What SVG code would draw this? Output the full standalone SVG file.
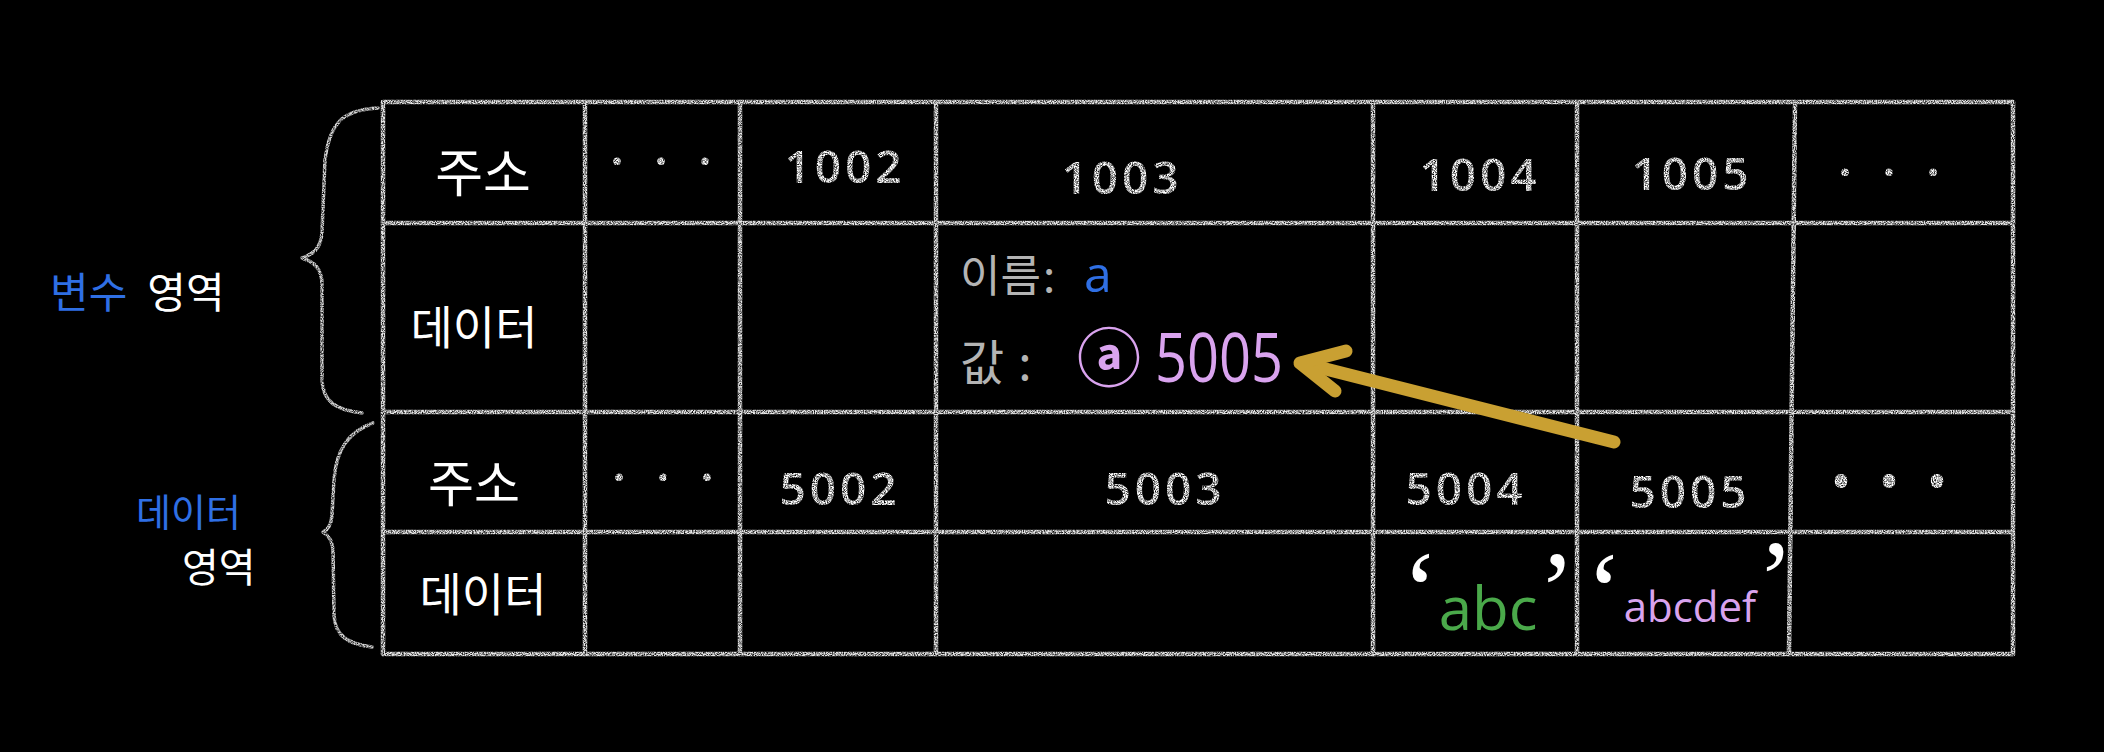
<svg xmlns="http://www.w3.org/2000/svg" width="2104" height="752" viewBox="0 0 2104 752">
<defs>
<filter id="chalk" filterUnits="userSpaceOnUse" x="0" y="0" width="2104" height="752">
<feTurbulence type="fractalNoise" baseFrequency="0.9" numOctaves="2" seed="4" result="n"/>
<feColorMatrix in="n" type="matrix" values="0 0 0 0 1  0 0 0 0 1  0 0 0 0 1  0 0 0 2.4 -0.5" result="a"/>
<feComposite in="SourceGraphic" in2="a" operator="in"/>
</filter>
<style>
.grid{stroke:#e6e6e6;stroke-width:4.5;fill:none;stroke-linecap:round}
.brace{stroke:#d8d8d8;stroke-width:3.5;fill:none;stroke-linecap:round;stroke-linejoin:round}
.ko{font-family:"Noto Sans CJK KR","Noto Sans",sans-serif;fill:#ffffff}
.num{font-family:"Open Sans","Liberation Sans",sans-serif;fill:#ffffff;text-anchor:middle;font-size:46px;font-weight:600;letter-spacing:4px}
.dots{font-family:"Open Sans","Liberation Sans",sans-serif;fill:#ffffff;text-anchor:middle;font-size:44px;font-weight:700;letter-spacing:10px}
.lat{font-family:"Open Sans","Liberation Sans",sans-serif}
.blue{fill:#2f6fe4}
.gray{fill:#b4b4b4}
.purple{fill:#d9a3ee}
.green{fill:#4aa94a}
.q{font-family:"Liberation Serif","DejaVu Serif",serif;fill:#ffffff;font-size:110px}
.arrow{stroke:#c9a032;stroke-width:13;fill:none;stroke-linecap:round;stroke-linejoin:round}
</style>
</defs>
<rect width="2104" height="752" fill="#000000"/>

<g id="grid" filter="url(#chalk)">
<path class="grid" d="M383,102 H2013 M383,223 H2013 M383,412 H2013 M383,532 H2013 M383,654 H2013"/>
<path class="grid" d="M383,102 V654 M585,102 V654 M740,102 V654 M936,102 V654 M1373,102 V654 M1577,102 V654 M1795,102 L1789,654 M2013,102 V654"/>
</g>

<g id="braces" filter="url(#chalk)">
<path class="brace" d="M378,108 C345,110 330,120 325,160 L322,232 C321,248 314,254 302,258 C314,262 322,268 322,285 L322,380 C323,402 336,410 362,413"/>
<path class="brace" d="M373,423 C348,432 336,450 334,480 L332,515 C331,526 328,530 323,532 C330,536 333,542 333,552 L334,615 C335,636 348,644 372,647"/>
</g>

<g id="label-var">
<text class="ko" x="50" y="308" font-size="42"><tspan class="blue">변수</tspan><tspan dx="20">영역</tspan></text>
</g>
<g id="label-data">
<text class="ko" font-size="38"><tspan class="blue" x="136" y="526">데이터</tspan><tspan x="182" y="582" font-size="40">영역</tspan></text>
</g>

<g id="r1-head"><text class="ko" x="483" y="192" font-size="52" text-anchor="middle">주소</text></g>
<g id="r1-c2" filter="url(#chalk)"><text class="dots" x="666" y="177">· · ·</text></g>
<g id="r1-c3" filter="url(#chalk)"><text class="num" x="845" y="183">1002</text></g>
<g id="r1-c4" filter="url(#chalk)"><text class="num" x="1122" y="194" letter-spacing="10">1003</text></g>
<g id="r1-c5" filter="url(#chalk)"><text class="num" x="1480" y="191">1004</text></g>
<g id="r1-c6" filter="url(#chalk)"><text class="num" x="1692" y="190" letter-spacing="7">1005</text></g>
<g id="r1-c7" filter="url(#chalk)"><text class="dots" x="1894" y="188" letter-spacing="14">· · ·</text></g>

<g id="r2-head"><text class="ko" x="474" y="344" font-size="46" text-anchor="middle">데이터</text></g>
<g id="r2-c4">
<text class="ko gray" x="960" y="292" font-size="44">이름<tspan dx="2">:</tspan></text>
<text class="lat blue" x="1084" y="292" font-size="50">a</text>
<text class="ko gray" x="960" y="380" font-size="48">값<tspan dx="14">:</tspan></text>
<text class="ko purple" x="1077" y="381" font-size="64" font-weight="700">ⓐ</text>
<text class="lat purple" x="1155" y="382" font-size="68" textLength="128" lengthAdjust="spacingAndGlyphs">5005</text>
</g>

<g id="r3-head"><text class="ko" x="474" y="502" font-size="50" text-anchor="middle">주소</text></g>
<g id="r3-c2" filter="url(#chalk)"><text class="dots" x="668" y="493">· · ·</text></g>
<g id="r3-c3" filter="url(#chalk)"><text class="num" x="840" y="505" letter-spacing="6">5002</text></g>
<g id="r3-c4" filter="url(#chalk)"><text class="num" x="1165" y="505" letter-spacing="7">5003</text></g>
<g id="r3-c5" filter="url(#chalk)"><text class="num" x="1466" y="505" letter-spacing="6">5004</text></g>
<g id="r3-c6" filter="url(#chalk)"><text class="num" x="1690" y="508" letter-spacing="7">5005</text></g>
<g id="r3-c7" filter="url(#chalk)"><text class="dots" x="1894" y="497" font-size="34" letter-spacing="16">• • •</text></g>

<g id="r4-head"><text class="ko" x="483" y="611" font-size="46" text-anchor="middle">데이터</text></g>
<g id="r4-c5">
<text x="1402" y="627"><tspan class="q">‘</tspan><tspan class="lat green" font-size="60" y="630">abc</tspan><tspan class="q" y="627" dx="1">’</tspan></text>
</g>
<g id="r4-c6">
<text x="1586" y="628"><tspan class="q">‘</tspan><tspan class="lat purple" font-size="42" y="622" dx="1">abcdef</tspan><tspan class="q" y="616" dx="1">’</tspan></text>
</g>

<g id="connectors">
<path class="arrow" d="M1614,442 L1302,363"/>
<path class="arrow" d="M1346,351 L1300,363 L1335,391"/>
</g>
</svg>
